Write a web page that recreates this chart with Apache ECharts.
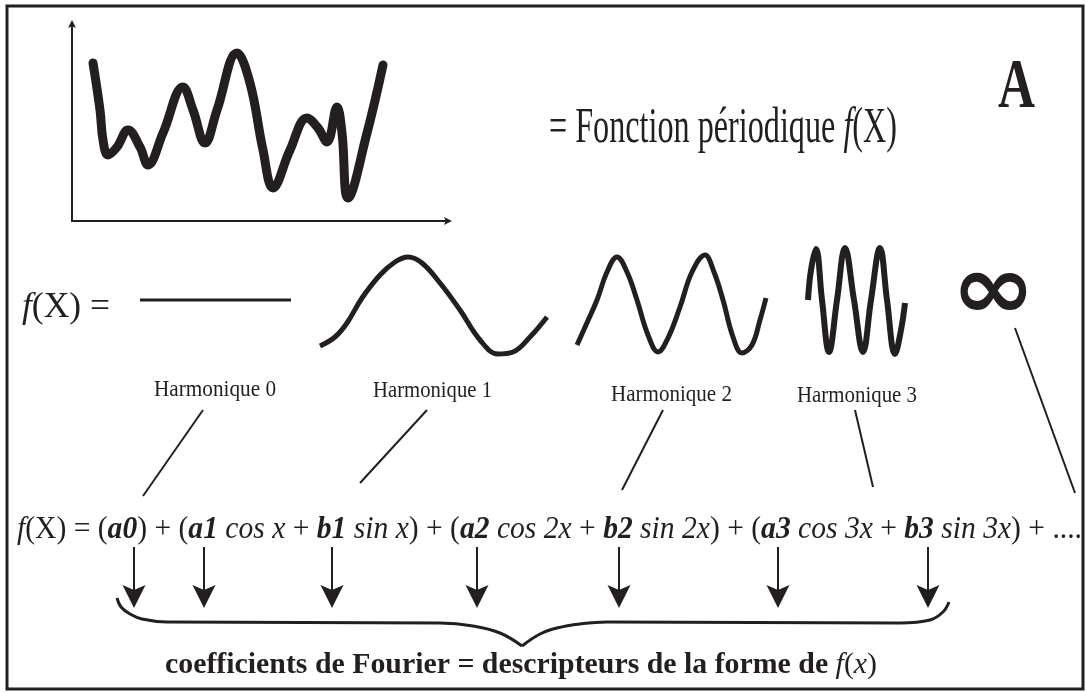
<!DOCTYPE html>
<html>
<head>
<meta charset="utf-8">
<title>Fonction périodique et harmoniques de Fourier</title>
<script src="https://cdn.jsdelivr.net/npm/echarts@6.0.0/dist/echarts.min.js"></script>
<style>
  html, body { margin: 0; padding: 0; background: #fff; }
  #chart { width: 1086px; height: 693px; }
</style>
</head>
<body>
<div id="chart"></div>
<script>
// ---- data (pixel-like units of the drawing) ----
// croquis de la fonction périodique f(x)
const periodicCurve = [[93,63],[100,110],[103,140],[108,155],[117,147],[128,130],[140,147],[148,165],[163,133],[183,87],[193,110],[205,143],[217,110],[237,53],[250,83],[263,150],[273,188],[290,150],[307,118],[318,128],[327,142],[337,107],[342,133],[348,198],[367,133],[383,65]]
const sketchAxes = [[[72,222],[72,20]], [[71,221],[452,221]]]

// harmoniques
const harmonic0 = [[140,300],[291,300]]
const harmonic1 = [[320,346],[335,337],[347,323],[362,298],[380,275],[395,262],[408,257],[422,263],[440,283],[460,310],[480,340],[498,354],[513,352],[530,337],[547,317]]
const harmonic2 = [[577,345],[586,325],[597,300],[607,272],[617,257],[627,272],[637,300],[648,335],[658,352],[668,338],[680,307],[692,272],[705,255],[714,272],[723,300],[733,337],[742,353],[752,345],[760,320],[766,298]]
const harmonic3 = [[808,300],[811,270],[816,249],[822,300],[829,352],[837,300],[845,248],[854,300],[863,352],[871,300],[880,248],[887,300],[895,354],[901,330],[905,303]]

// traits reliant les harmoniques aux termes de la série
const connectors = [[[203,410],[143,496]], [[427,410],[360,483]], [[663,410],[622,490]], [[855,410],[873,487]], [[1015,328],[1075,493]]]
// flèches vers les coefficients
const coefArrowX = [134, 204, 332, 477, 619, 778, 928]
const arrowTop = 547
const arrowTip = 608
// accolade
const braceLeft = [[117,598],[121,607],[130,614],[142,619],[167,622],[440,623],[473,626],[500,633],[522,646]]
const braceRight = [[522,646],[540,634],[557,628],[580,624],[607,622],[900,623],[930,620],[943,612],[949,602]]

// textes : [contenu, style] r = romain, i = italique, b = gras, bi = gras italique
const titleText = [['= Fonction périodique ', 'r'], ['f', 'i'], ['(X)', 'r']]
const panelLetter = [['A', 'b']]
const fxText = [['f', 'i'], ['(X) =', 'r']]
const harmonicLabels = ['Harmonique 0', 'Harmonique 1', 'Harmonique 2', 'Harmonique 3']
const infinityGlyph = '∞'
const formulaText = [
  ['f', 'i'], ['(X) = (', 'r'], ['a0', 'bi'], [') + (', 'r'],
  ['a1', 'bi'], [' cos x ', 'i'], ['+ ', 'r'], ['b1', 'bi'], [' sin x', 'i'], [') + (', 'r'],
  ['a2', 'bi'], [' cos 2x ', 'i'], ['+ ', 'r'], ['b2', 'bi'], [' sin 2x', 'i'], [') + (', 'r'],
  ['a3', 'bi'], [' cos 3x ', 'i'], ['+ ', 'r'], ['b3', 'bi'], [' sin 3x', 'i'], [') + ....', 'r']
]
const captionText = [['coefficients de Fourier = descripteurs de la forme de ', 'b'], ['f', 'i'], ['(', 'r'], ['x', 'i'], [')', 'r']]

// ---- layout / style ----
const ink = '#231f20'
const serif = '"Liberation Serif", "Times New Roman", serif'
const glyphFont = '"DejaVu Sans", sans-serif'
const headSize = 23
const arrowHead = 'path://M11,0 L22,23 L11,18 L0,23 Z'

const textLayout = {
  title: { left: 549, right: 897, base: 142, size: 51 },
  letter: { left: 998, right: 1035, base: 107, size: 70 },
  fx: { left: 22, right: 110, base: 317, size: 36 },
  harmonics: [
    { left: 154, right: 276, base: 396, size: 24 },
    { left: 373, right: 492, base: 397, size: 24 },
    { left: 611, right: 732, base: 401, size: 24 },
    { left: 797, right: 917, base: 402, size: 24 }
  ],
  infinity: { left: 960, right: 1027, top: 272, bottom: 310, size: 80 },
  formula: { left: 17, right: 1082, base: 538, size: 31 },
  caption: { left: 165, right: 877, base: 673, size: 30 }
}

const chart = echarts.init(document.getElementById('chart'))

const curve = (data, width, cap) => ({
  type: 'line',
  data: data,
  smooth: 0.4,
  symbol: 'none',
  showSymbol: false,
  silent: true,
  lineStyle: { color: ink, width: width, cap: cap || 'butt', join: 'round' }
})

// raccourcit un segment pour que la pointe de la flèche tombe sur l'extrémité
const shorten = (from, to, d) => {
  const dx = to[0] - from[0]
  const dy = to[1] - from[1]
  const len = Math.hypot(dx, dy)
  return [to[0] - dx / len * d, to[1] - dy / len * d]
}

chart.setOption({
  animation: false,
  grid: {
    show: true, left: 7, top: 6, right: 3, bottom: 4,
    borderColor: ink, borderWidth: 3, outerBoundsMode: 'none'
  },
  xAxis: { type: 'value', min: 7, max: 1083, show: false },
  yAxis: { type: 'value', min: 6, max: 689, inverse: true, show: false },
  series: [
    curve(periodicCurve, 9, 'round'),
    curve(harmonic0, 3),
    curve(harmonic1, 5),
    curve(harmonic2, 5),
    curve(harmonic3, 6),
    curve(braceLeft, 3),
    curve(braceRight, 3),
    {
      type: 'lines',
      coordinateSystem: 'cartesian2d',
      silent: true,
      symbol: ['none', arrowHead],
      symbolSize: 8,
      lineStyle: { color: ink, width: 2, opacity: 1 },
      data: sketchAxes.map((s) => ({ coords: [s[0], shorten(s[0], s[1], 4)] }))
    },
    {
      type: 'lines',
      coordinateSystem: 'cartesian2d',
      silent: true,
      lineStyle: { color: ink, width: 2, opacity: 1 },
      data: connectors.map((s) => ({ coords: s }))
    },
    {
      type: 'lines',
      coordinateSystem: 'cartesian2d',
      silent: true,
      symbol: ['none', arrowHead],
      symbolSize: headSize,
      lineStyle: { color: ink, width: 2, opacity: 1 },
      data: coefArrowX.map((x) => ({ coords: [[x, arrowTop], [x, arrowTip - headSize / 2]] }))
    }
  ]
})

// ---- textes (Times condensé comme dans l'original) ----
const ctx = document.createElement('canvas').getContext('2d')
const fontOf = (s, size, family) =>
  (s.indexOf('i') >= 0 ? 'italic ' : '') + (s.indexOf('b') >= 0 ? 'bold ' : '') + size + 'px ' + (family || serif)

const toPx = (p) => chart.convertToPixel({ gridIndex: 0 }, p)

function textWidth(parts, size) {
  let w = 0
  parts.forEach((p) => {
    ctx.font = fontOf(p[1], size)
    w += ctx.measureText(p[0]).width
  })
  return w
}

// distance entre la ligne 'middle' et la ligne de base
function baseOffset(size) {
  ctx.font = fontOf('r', size)
  ctx.textBaseline = 'alphabetic'
  const a = ctx.measureText('H').actualBoundingBoxAscent
  ctx.textBaseline = 'middle'
  const m = ctx.measureText('H').actualBoundingBoxAscent
  ctx.textBaseline = 'alphabetic'
  return a - m
}

function richStyles(size) {
  const rich = {}
  ;['r', 'i', 'b', 'bi'].forEach((k) => {
    rich[k] = {
      fontFamily: serif,
      fontSize: size,
      lineHeight: size,
      fontStyle: k.indexOf('i') >= 0 ? 'italic' : 'normal',
      fontWeight: k.indexOf('b') >= 0 ? 'bold' : 'normal',
      fill: ink
    }
  })
  return rich
}

function fitText(parts, lay) {
  const p0 = toPx([lay.left, lay.base])
  const p1 = toPx([lay.right, lay.base])
  const sx = (p1[0] - p0[0]) / textWidth(parts, lay.size)
  return {
    type: 'text',
    x: p0[0],
    y: p0[1] - baseOffset(lay.size),
    scaleX: sx,
    scaleY: 1,
    originX: 0,
    originY: 0,
    silent: true,
    z: 10,
    style: {
      text: parts.map((p) => '{' + p[1] + '|' + p[0] + '}').join(''),
      rich: richStyles(lay.size),
      fontFamily: serif,
      fontSize: lay.size,
      lineHeight: lay.size,
      align: 'left',
      textAlign: 'left',
      verticalAlign: 'middle',
      textVerticalAlign: 'middle',
      fill: ink
    }
  }
}

function fitGlyph(glyph, lay) {
  const tl = toPx([lay.left, lay.top])
  const br = toPx([lay.right, lay.bottom])
  ctx.font = fontOf('b', lay.size, glyphFont)
  ctx.textAlign = 'left'
  ctx.textBaseline = 'middle'
  const m = ctx.measureText(glyph)
  ctx.textBaseline = 'alphabetic'
  const sx = (br[0] - tl[0]) / (m.actualBoundingBoxLeft + m.actualBoundingBoxRight)
  const sy = (br[1] - tl[1]) / (m.actualBoundingBoxAscent + m.actualBoundingBoxDescent)
  return {
    type: 'text',
    x: tl[0] + m.actualBoundingBoxLeft * sx,
    y: tl[1] + m.actualBoundingBoxAscent * sy,
    scaleX: sx,
    scaleY: sy,
    originX: 0,
    originY: 0,
    silent: true,
    z: 10,
    style: {
      text: glyph,
      fontFamily: glyphFont,
      fontWeight: 'bold',
      fontSize: lay.size,
      lineHeight: lay.size,
      align: 'left',
      textAlign: 'left',
      verticalAlign: 'middle',
      textVerticalAlign: 'middle',
      fill: ink
    }
  }
}

const texts = [
  fitText(titleText, textLayout.title),
  fitText(panelLetter, textLayout.letter),
  fitText(fxText, textLayout.fx),
  fitGlyph(infinityGlyph, textLayout.infinity),
  fitText(formulaText, textLayout.formula),
  fitText(captionText, textLayout.caption)
]
harmonicLabels.forEach((label, i) => {
  texts.push(fitText([[label, 'r']], textLayout.harmonics[i]))
})

chart.setOption({ graphic: texts })
</script>
</body>
</html>
